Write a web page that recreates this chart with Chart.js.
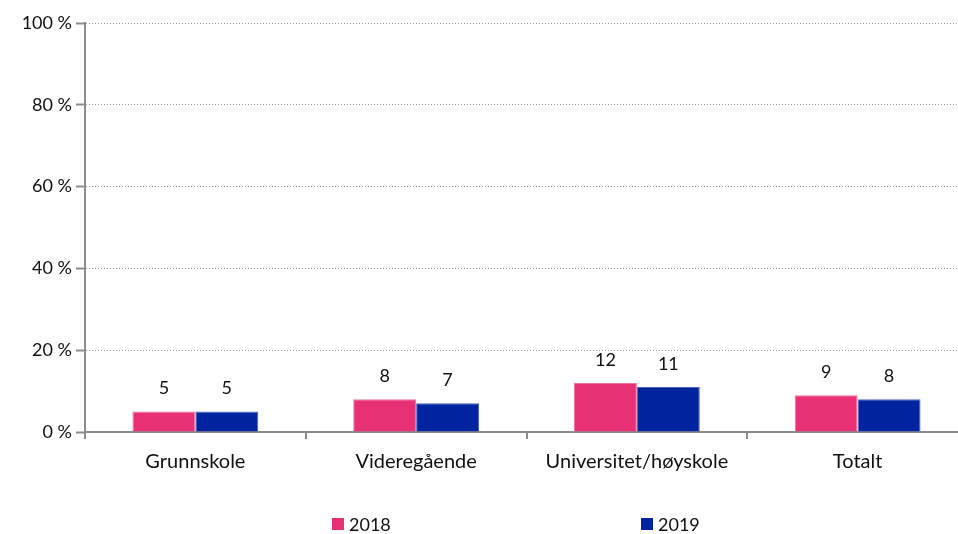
<!DOCTYPE html>
<html>
<head>
<meta charset="utf-8">
<script src="https://cdn.jsdelivr.net/npm/chart.js@4"></script>
<style>
  html, body { margin: 0; padding: 0; overflow: hidden; background: #fff; }
  #wrap { width: 968px; height: 534px; }
</style>
</head>
<body>
<div id="wrap"><canvas id="chart"></canvas></div>
<script>
const categories = ['Grunnskole', 'Videregående', 'Universitet/høyskole', 'Totalt'];
const values2018 = [5, 8, 12, 9];
const values2019 = [5, 7, 11, 8];
const yTicks = [0, 20, 40, 60, 80, 100];

const FONT = 'Lato, "Noto Sans", sans-serif';
const FONT_SIZE = 18;

// value labels above bars
const barLabels = {
  id: 'barLabels',
  afterDatasetsDraw(chart) {
    const ctx = chart.ctx;
    ctx.save();
    ctx.font = FONT_SIZE + 'px ' + FONT;
    ctx.fillStyle = '#111';
    ctx.textAlign = 'center';
    ctx.textBaseline = 'bottom';
    chart.data.datasets.forEach((ds, i) => {
      chart.getDatasetMeta(i).data.forEach((bar, j) => {
        ctx.fillText(ds.data[j], bar.x, bar.y - 14);
      });
    });
    ctx.restore();
  }
};

// legend spread out under the chart, like the original
const wideLegend = {
  id: 'wideLegend',
  afterDraw(chart) {
    const ctx = chart.ctx;
    const left = chart.chartArea.left;
    const xs = [left + 247, left + 556];
    const y = 524;
    ctx.save();
    ctx.font = FONT_SIZE + 'px ' + FONT;
    ctx.textBaseline = 'middle';
    ctx.textAlign = 'left';
    chart.data.datasets.forEach((ds, i) => {
      ctx.fillStyle = ds.backgroundColor;
      ctx.fillRect(xs[i], y - 6, 12, 12);
      ctx.fillStyle = '#111';
      ctx.fillText(ds.label, xs[i] + 17, y + 1);
    });
    ctx.restore();
  }
};

new Chart(document.getElementById('chart'), {
  type: 'bar',
  data: {
    labels: categories,
    datasets: [
      { label: '2018', data: values2018, backgroundColor: '#e83174', borderColor: '#f0709c', borderWidth: 1 },
      { label: '2019', data: values2019, backgroundColor: '#0023a0', borderColor: '#4a64c0', borderWidth: 1 }
    ]
  },
  options: {
    responsive: true,
    maintainAspectRatio: false,
    animation: false,
    layout: { padding: { top: 23, bottom: 54 } },
    categoryPercentage: 0.57,
    barPercentage: 1.0,
    plugins: {
      legend: { display: false },
      tooltip: { enabled: false }
    },
    scales: {
      x: {
        grid: {
          offset: true,
          drawOnChartArea: false,
          tickLength: 7,
          color: '#8c8c8c',
          lineWidth: 2
        },
        border: { color: '#8c8c8c', width: 2 },
        ticks: { font: { family: FONT, size: 20 }, color: '#111', padding: 11 },
        afterFit(scale) { scale.height = 48; }
      },
      y: {
        min: 0,
        max: 100,
        afterBuildTicks(scale) { scale.ticks = yTicks.map(v => ({ value: v })); },
        grid: {
          color: '#999',
          lineWidth: 1,
          tickLength: 9,
          tickColor: '#8c8c8c',
          tickWidth: 2
        },
        border: { color: '#8c8c8c', width: 2, dash: [1, 2] },
        ticks: {
          font: { family: FONT, size: FONT_SIZE },
          color: '#111',
          padding: 4,
          callback: v => v + ' %'
        },
        afterFit(scale) { scale.width = 85; }
      }
    }
  },
  plugins: [barLabels, wideLegend]
});
</script>
</body>
</html>
